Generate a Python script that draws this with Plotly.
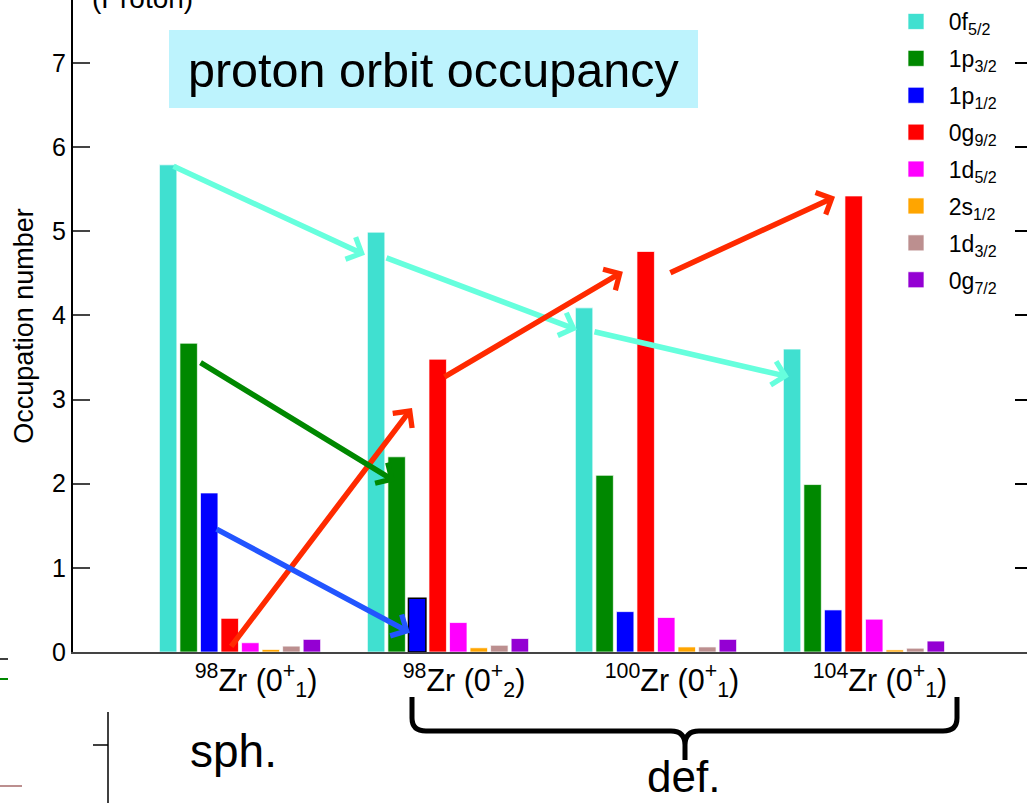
import plotly.graph_objects as go

# ---------------- data ----------------
nuclei = [
    "<sup>98</sup>Zr (0<sup>+</sup><sub>1</sub>)",
    "<sup>98</sup>Zr (0<sup>+</sup><sub>2</sub>)",
    "<sup>100</sup>Zr (0<sup>+</sup><sub>1</sub>)",
    "<sup>104</sup>Zr (0<sup>+</sup><sub>1</sub>)",
]
orbits = ["0f<sub>5/2</sub>", "1p<sub>3/2</sub>", "1p<sub>1/2</sub>", "0g<sub>9/2</sub>",
          "1d<sub>5/2</sub>", "2s<sub>1/2</sub>", "1d<sub>3/2</sub>", "0g<sub>7/2</sub>"]
occ_0f52 = [5.79, 4.99, 4.09, 3.60]
occ_1p32 = [3.67, 2.32, 2.10, 1.99]
occ_1p12 = [1.89, 0.64, 0.48, 0.50]
occ_0g92 = [0.40, 3.48, 4.76, 5.42]
occ_1d52 = [0.11, 0.35, 0.41, 0.39]
occ_2s12 = [0.03, 0.05, 0.06, 0.025]
occ_1d32 = [0.07, 0.08, 0.06, 0.045]
occ_0g72 = [0.15, 0.16, 0.15, 0.13]
series = [occ_0f52, occ_1p32, occ_1p12, occ_0g92, occ_1d52, occ_2s12, occ_1d32, occ_0g72]
colors = ["#40E0D0", "#008800", "#0000FF", "#FF0000", "#FF00FF", "#FFA500", "#BC8F8F", "#9400D3"]

# arrows: (tail x, tail y, head x, head y, color) in data units (x = category index)
arrows = [
    (-0.327, 5.78, 0.601, 4.72, "#66FFDD"),
    (0.697, 4.69, 1.620, 3.83, "#66FFDD"),
    (1.697, 3.81, 2.639, 3.27, "#66FFDD"),
    (-0.048, 0.05, 0.827, 2.90, "#FF2A00"),
    (0.976, 3.26, 1.841, 4.52, "#FF2A00"),
    (2.062, 4.50, 2.861, 5.41, "#FF2A00"),
    (-0.197, 3.45, 0.745, 2.03, "#008800"),
    (-0.120, 1.47, 0.817, 0.23, "#2255FF"),
]

FONT = "Liberation Sans, Arial, Helvetica, sans-serif"
W, H = 1027, 803
ML, MB = 73, 151
PW, PH = W - ML, H - MB


def pxx(x):
    return (x - ML) / PW


def pyy(y):
    return (PH - y) / PH


fig = go.Figure()

for k, (name, vals, col) in enumerate(zip(orbits, series, colors)):
    line_cols = ["rgba(255,255,255,0.7)"] * len(vals)
    line_w = [1] * len(vals)
    if k == 2:
        line_cols[1] = "black"
        line_w[1] = 1.5
    fig.add_trace(go.Bar(
        x=nuclei, y=vals, name=name, showlegend=False,
        marker=dict(color=col, line=dict(color=line_cols, width=line_w)),
    ))

# legend proxies
for k, (name, col) in enumerate(zip(orbits, colors)):
    fig.add_trace(go.Scatter(
        x=[None], y=[None], mode="markers", name="\u00a0\u00a0" + name,
        legendgroup=f"g{k}",
        marker=dict(symbol="square", size=17, color=col,
                    line=dict(color="rgba(255,255,255,0.7)", width=1)),
        yaxis="y2",
    ))

for xt, yt, xh, yh, c in arrows:
    fig.add_annotation(x=xh, y=yh, ax=xt, ay=yt, xref="x", yref="y", axref="x", ayref="y",
                       text="", showarrow=True, arrowhead=4, arrowsize=0.85, arrowwidth=5.5,
                       arrowcolor=c, standoff=0, startstandoff=0)

# title box
fig.add_shape(type="rect", xref="paper", yref="paper",
              x0=pxx(169), x1=pxx(698), y0=pyy(108), y1=pyy(30),
              fillcolor="#BDF3FD", line=dict(width=0), layer="below")
fig.add_annotation(xref="paper", yref="paper", x=pxx(433), y=pyy(70),
                   text="proton orbit occupancy", showarrow=False,
                   font=dict(size=48.5, color="black", family=FONT),
                   xanchor="center", yanchor="middle")
fig.add_annotation(xref="paper", yref="paper", x=pxx(142), y=pyy(-2),
                   text="(Proton)", showarrow=False,
                   font=dict(size=28, color="black", family=FONT),
                   xanchor="center", yanchor="middle")
fig.add_annotation(xref="paper", yref="paper", x=pxx(233), y=pyy(751),
                   text="sph.", showarrow=False,
                   font=dict(size=46, color="black", family=FONT),
                   xanchor="center", yanchor="middle")
fig.add_annotation(xref="paper", yref="paper", x=pxx(683), y=pyy(776),
                   text="def.", showarrow=False,
                   font=dict(size=44, color="black", family=FONT),
                   xanchor="center", yanchor="middle")

# curly brace
def P(x, y):
    return f"{pxx(x):.5f},{pyy(y):.5f}"

brace = (f"M{P(412,697)} L{P(412,718)} Q{P(412,731)} {P(426,731)} L{P(671,731)} "
         f"Q{P(685,731)} {P(685,745)} L{P(685,760)} M{P(685,745)} Q{P(685,731)} {P(699,731)} "
         f"L{P(943,731)} Q{P(957,731)} {P(957,718)} L{P(957,697)}")
fig.add_shape(type="path", xref="paper", yref="paper", path=brace,
              line=dict(color="black", width=5))

# fragments of a neighbouring panel at the lower left
frag = [
    (0, 659, 8, 659, "black", 1.5),
    (0, 679, 8, 679, "#008800", 2),
    (0, 786, 22, 786, "#BC8F8F", 2),
    (108, 712, 108, 803, "black", 1.5),
    (93, 745, 108, 745, "black", 1.5),
]
for x0, y0, x1, y1, c, w in frag:
    fig.add_shape(type="line", xref="paper", yref="paper",
                  x0=pxx(x0), y0=pyy(y0), x1=pxx(x1), y1=pyy(y1),
                  line=dict(color=c, width=w))

YMAX = 7.749
fig.update_layout(
    width=W, height=H,
    margin=dict(l=ML, r=0, t=0, b=MB, pad=0),
    paper_bgcolor="white", plot_bgcolor="white",
    barmode="group", bargap=0.21, bargroupgap=0.15,
    font=dict(family=FONT, color="black"),
    xaxis=dict(type="category", range=[-0.803, 3.784], showline=True, linecolor="#444",
               linewidth=2, ticks="", showgrid=False, zeroline=False,
               tickfont=dict(size=30.5), ticklabelshift=16),
    yaxis=dict(range=[0, YMAX], tickvals=[0, 1, 2, 3, 4, 5, 6, 7], ticks="inside", ticklen=17,
               tickwidth=2, showline=True, linecolor="black", linewidth=2, showgrid=False,
               zeroline=False, tickfont=dict(size=25),
               title=dict(text="Occupation number", font=dict(size=27), standoff=11)),
    yaxis2=dict(range=[0, YMAX], overlaying="y", side="right", tickvals=[0, 1, 2, 3, 4, 5, 6, 7],
                ticks="inside", ticklen=12, tickwidth=1.5, tickcolor="black",
                showticklabels=False, showline=False, showgrid=False, zeroline=False),
    legend=dict(x=pxx(896), y=1.0, xanchor="left", yanchor="top",
                bgcolor="rgba(0,0,0,0)", font=dict(size=23), tracegroupgap=4),
)

fig.write_html("out.html")
